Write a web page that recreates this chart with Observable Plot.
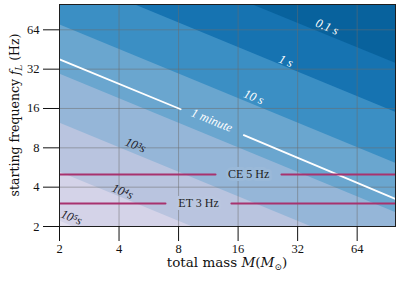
<!DOCTYPE html>
<html><head><meta charset="utf-8">
<script src="https://cdn.jsdelivr.net/npm/d3@7"></script>
<script src="https://cdn.jsdelivr.net/npm/@observablehq/plot@0.6"></script>
<style>
  html,body{margin:0;padding:0;background:#fff}
  #chart{width:407px;height:281px}
</style>
</head><body><div id="chart"></div>
<script>
// ---- data ----
const massTicks = [2, 4, 8, 16, 32, 64];
const freqTicks = [2, 4, 8, 16, 32, 64];
const massTickLabels = ["2", "4", "8", "16", "32", "64"];
const freqTickLabels = ["2", "4", "8", "16", "32", "64"];
const massRange = [2, 100];
const freqRange = [2, 100];

// time-to-merger contour boundaries (lowest to highest frequency)
const contourLevels = ["1e5 s", "1e4 s", "1e3 s", "100 s", "10 s", "1 s", "0.1 s"];
const contourFAtMassMin = [2.2, 5.22, 12.4, 29.4, 70, 172, 400];   // f (Hz) at M = 2
const contourFAtMassMax = [0.19, 0.454, 1.08, 2.56, 6.1, 15, 35.5]; // f (Hz) at M = 100

// contour labels
const contourLabelText = ["0.1 s", "1 s", "10 s", "1 minute", "10³s", "10⁴s", "10⁵s"];
const contourLabelMass = [45.1, 27.9, 19.2, 11.8, 4.85, 4.17, 2.30];
const contourLabelFreq = [67.5, 37.0, 19.6, 13.0, 8.37, 3.71, 2.35];

// "1 minute" white line, drawn in two pieces around its label
const minuteLineMass = [2, 8.2, 17.1, 100];
const minuteLineFreq = [38, 15.8, 10.0, 3.25];
const minuteLinePiece = [0, 0, 1, 1];

// detector low-frequency cutoffs
const detectorNames = ["CE 5 Hz", "ET 3 Hz"];
const detectorFreq = [5, 3];
const detectorLabelMass = [18.1, 10.1];
const detectorGapStart = [12.3, 6.87];
const detectorGapEnd = [26.5, 14.8];

// ---- build tables ----
const bandRows = contourLevels.flatMap((lv, i) => [
  {level: lv, M: massRange[0], f: contourFAtMassMin[i]},
  {level: lv, M: massRange[1], f: contourFAtMassMax[i]}
]);
const minuteRows = minuteLineMass.map((M, i) => ({M, f: minuteLineFreq[i], piece: minuteLinePiece[i]}));
const detectorRows = detectorNames.flatMap((name, i) => [
  {seg: name + "a", M: massRange[0], f: detectorFreq[i]},
  {seg: name + "a", M: detectorGapStart[i], f: detectorFreq[i]},
  {seg: name + "b", M: detectorGapEnd[i], f: detectorFreq[i]},
  {seg: name + "b", M: massRange[1], f: detectorFreq[i]}
]);
const detectorLabels = detectorNames.map((name, i) => ({name, M: detectorLabelMass[i], f: detectorFreq[i], i}));
const contourLabels = contourLabelText.map((t, i) => ({t, M: contourLabelMass[i], f: contourLabelFreq[i], i}));
const xTickRows = massTicks.map((v, i) => ({v, t: massTickLabels[i]}));
const yTickRows = freqTicks.map((v, i) => ({v, t: freqTickLabels[i]}));

const serif = "'Liberation Serif', 'DejaVu Serif', serif";
const wideSerif = "'DejaVu Serif', 'Liberation Serif', serif";

const plot = Plot.plot({
  width: 407,
  height: 281,
  marginLeft: 59,
  marginRight: 12,
  marginTop: 4,
  marginBottom: 55,
  style: {fontFamily: serif, fontSize: "12.5px", color: "#111", background: "#fff"},
  x: {type: "log", domain: massRange, label: null},
  y: {type: "log", domain: freqRange, label: null},
  color: {type: "ordinal", domain: contourLevels,
          range: ["#d4d3e8", "#b9c4df", "#95b6d8", "#6aa6cf", "#3b8fc4", "#1673b1", "#08629d"]},
  marks: [
    Plot.frame({fill: "#e3e0ef"}),
    Plot.areaY(bandRows, {x: "M", y1: "f", y2: 1e4, z: "level", fill: "level", clip: true}),
    Plot.gridX(massTicks, {stroke: "#6b6b6b", strokeOpacity: 0.5, strokeWidth: 1}),
    Plot.gridY(freqTicks, {stroke: "#6b6b6b", strokeOpacity: 0.5, strokeWidth: 1}),
    Plot.line(minuteRows, {x: "M", y: "f", z: "piece", stroke: "white", strokeWidth: 1.8, clip: true}),
    Plot.line(detectorRows, {x: "M", y: "f", z: "seg", stroke: "#a8326e", strokeWidth: 2, clip: true}),
    Plot.text(detectorLabels, {x: "M", y: "f", text: "name", fill: "#222",
      stroke: d => d.i === 0 ? "#9ab9d9" : "#bac6e0", strokeWidth: 6,
      fontSize: 12, fontFamily: serif}),
    Plot.text(contourLabels, {x: "M", y: "f", text: "t", rotate: 22.3,
      fill: d => d.i < 4 ? "white" : "#1d1d2b", fontStyle: "italic", fontSize: 12.5, fontFamily: serif}),
    Plot.frame({stroke: "#1e1e1e", strokeWidth: 1}),
    Plot.axisX(massTicks, {tickSize: 15, text: null, label: null, stroke: "#111"}),
    Plot.axisY(freqTicks, {tickSize: 16, text: null, label: null, stroke: "#111"}),
    Plot.text(xTickRows, {x: "v", text: "t", frameAnchor: "bottom", dy: 26, fontSize: 12.5, fill: "#111"}),
    Plot.text(yTickRows, {y: "v", text: "t", frameAnchor: "left", dx: -20, textAnchor: "end", fontSize: 12.5, fill: "#111"})
  ]
});

document.getElementById("chart").appendChild(plot);

const svg = d3.select(plot);
// x-axis label
const xl = svg.append("text")
  .attr("x", 227).attr("y", 267)
  .attr("text-anchor", "middle")
  .style("font-family", wideSerif).style("font-size", "13.5px").attr("fill", "#111");
xl.append("tspan").text("total mass ");
xl.append("tspan").style("font-style", "italic").text("M");
xl.append("tspan").text("(");
xl.append("tspan").style("font-style", "italic").text("M");
xl.append("tspan").attr("dy", 3).style("font-size", "9px").text("⊙");
xl.append("tspan").attr("dy", -3).text(")");

// y-axis label
const yl = svg.append("text")
  .attr("transform", "translate(19,115) rotate(-90)")
  .attr("text-anchor", "middle")
  .style("font-family", wideSerif).style("font-size", "12.5px").attr("fill", "#111");
yl.append("tspan").text("starting frequency ");
yl.append("tspan").style("font-style", "italic").text("f");
yl.append("tspan").attr("dy", 3).style("font-size", "8.5px").style("font-style", "italic").text("L");
yl.append("tspan").attr("dy", -3).text(" (Hz)");
</script>
</body></html>
